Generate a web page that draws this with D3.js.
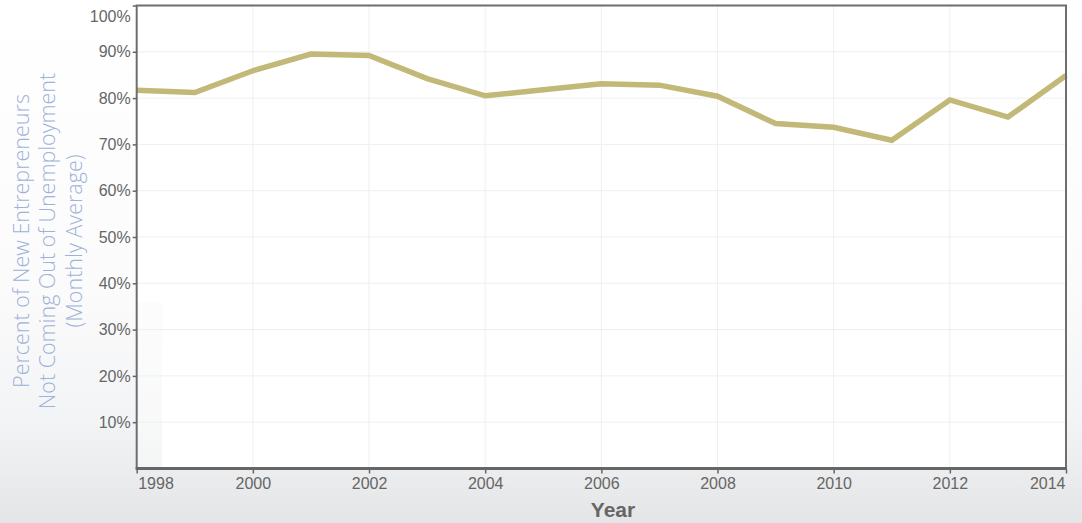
<!DOCTYPE html>
<html><head><meta charset="utf-8">
<script src="https://cdn.jsdelivr.net/npm/d3@7"></script>
<style>
html,body{margin:0;padding:0;}
body{width:1082px;height:523px;overflow:hidden;}
</style></head>
<body><svg id="c" width="1082" height="523"></svg>
<script>
const years = [1998,1999,2000,2001,2002,2003,2004,2005,2006,2007,2008,2009,2010,2011,2012,2013,2014];
const values = [0.817,0.812,0.859,0.895,0.892,0.842,0.805,0.818,0.831,0.828,0.804,0.745,0.737,0.709,0.796,0.759,0.849];
const yTicks = [0.1,0.2,0.3,0.4,0.5,0.6,0.7,0.8,0.9,1.0];
const xTicks = [1998,2000,2002,2004,2006,2008,2010,2012,2014];
const yTitleLines = ["Percent of New Entrepreneurs","Not Coming Out of Unemployment","(Monthly Average)"];
const xTitle = "Year";

const svg = d3.select("#c");
const W = 1082, H = 523;
const L = 136.7, R = 1066, T = 5.5, B = 468.5;

const defs = svg.append("defs");
const g = defs.append("linearGradient").attr("id","bg").attr("x1",0).attr("y1",0).attr("x2",0).attr("y2",1);
g.append("stop").attr("offset","0%").attr("stop-color","#ffffff");
g.append("stop").attr("offset","55%").attr("stop-color","#fbfbfc");
g.append("stop").attr("offset","80%").attr("stop-color","#f3f4f5");
g.append("stop").attr("offset","100%").attr("stop-color","#e4e5e7");
svg.append("rect").attr("width",W).attr("height",H).attr("fill","url(#bg)");

const x = d3.scaleLinear().domain([1998,2014]).range([L,R]);
const y = d3.scaleLinear().domain([0,1]).range([B,T]);

// plot area white panel (left strip shows the background)
svg.append("rect").attr("x",162).attr("y",T).attr("width",R-162).attr("height",B-T).attr("fill","#ffffff");
svg.append("rect").attr("x",L).attr("y",T).attr("width",162-L).attr("height",302-T).attr("fill","#ffffff");
svg.append("rect").attr("x",L).attr("y",302).attr("width",162-L).attr("height",B-302).attr("fill","#ffffff").attr("opacity",0.45);

// gridlines
svg.append("g").selectAll("line").data(yTicks).join("line")
  .attr("x1",L).attr("x2",R).attr("y1",d=>y(d)).attr("y2",d=>y(d))
  .attr("stroke","#efefef").attr("stroke-width",1);
svg.append("g").selectAll("line").data(xTicks.slice(1,-1)).join("line")
  .attr("x1",d=>x(d)).attr("x2",d=>x(d)).attr("y1",T).attr("y2",B)
  .attr("stroke","#efefef").attr("stroke-width",1);

// line
const line = d3.line().x((d,i)=>x(years[i])).y(d=>y(d));
svg.append("path").datum(values).attr("d",line).attr("fill","none")
  .attr("stroke","#c2b878").attr("stroke-width",5.5).attr("stroke-linejoin","miter");

// frame
svg.append("rect").attr("x",L).attr("y",T).attr("width",R-L).attr("height",B-T)
  .attr("fill","none").attr("stroke","#6e6e6e").attr("stroke-width",2);
svg.append("line").attr("x1",L-1).attr("x2",R+1).attr("y1",B).attr("y2",B).attr("stroke","#666").attr("stroke-width",3);

// y axis
const yAxis = d3.axisLeft(y).tickValues(yTicks).tickFormat(d3.format(".0%")).tickSize(4).tickPadding(2);
const ya = svg.append("g").attr("transform",`translate(${L},0)`).call(yAxis);
ya.attr("font-size",null).attr("font-family",null);
ya.select(".domain").remove();
ya.selectAll(".tick line").attr("stroke","#666").attr("stroke-width",1.5);
ya.selectAll(".tick text").attr("fill","#666").style("font-family","'Liberation Sans', Arial, sans-serif").style("font-size","16px");
ya.selectAll(".tick").filter(d=>d===1).select("text").attr("dy","1.0em");

// x axis
const xAxis = d3.axisBottom(x).tickValues(xTicks).tickFormat(d3.format("d")).tickSize(4).tickPadding(4);
const xa = svg.append("g").attr("transform",`translate(0,${B+1})`).call(xAxis);
xa.attr("font-size",null).attr("font-family",null);
xa.select(".domain").remove();
xa.selectAll(".tick line").attr("stroke","#666").attr("stroke-width",1.5);
xa.selectAll(".tick text").attr("fill","#666").style("font-family","'Liberation Sans', Arial, sans-serif").style("font-size","16px");
xa.selectAll(".tick").filter(d=>d===1998).select("text").attr("text-anchor","start").attr("x",1);
xa.selectAll(".tick").filter(d=>d===2014).select("text").attr("text-anchor","end").attr("x",-1);

// x title
svg.append("text").attr("x",613).attr("y",517).attr("text-anchor","middle")
  .attr("fill","#666").style("font-family","'Liberation Sans', Arial, sans-serif")
  .style("font-size","21px").style("font-weight","bold").text(xTitle);

// y title
const yt = svg.append("text").attr("transform","translate(47,241) rotate(-90)")
  .attr("text-anchor","middle").attr("fill","#9fb2d8")
  .style("font-family","'Open Sans', 'Noto Sans', sans-serif").style("font-weight","300").style("font-size","21.5px");
yTitleLines.forEach((t,i)=>{
  yt.append("tspan").attr("x",0).attr("y",(i-1)*26.5 + 8).text(t);
});
</script></body></html>
